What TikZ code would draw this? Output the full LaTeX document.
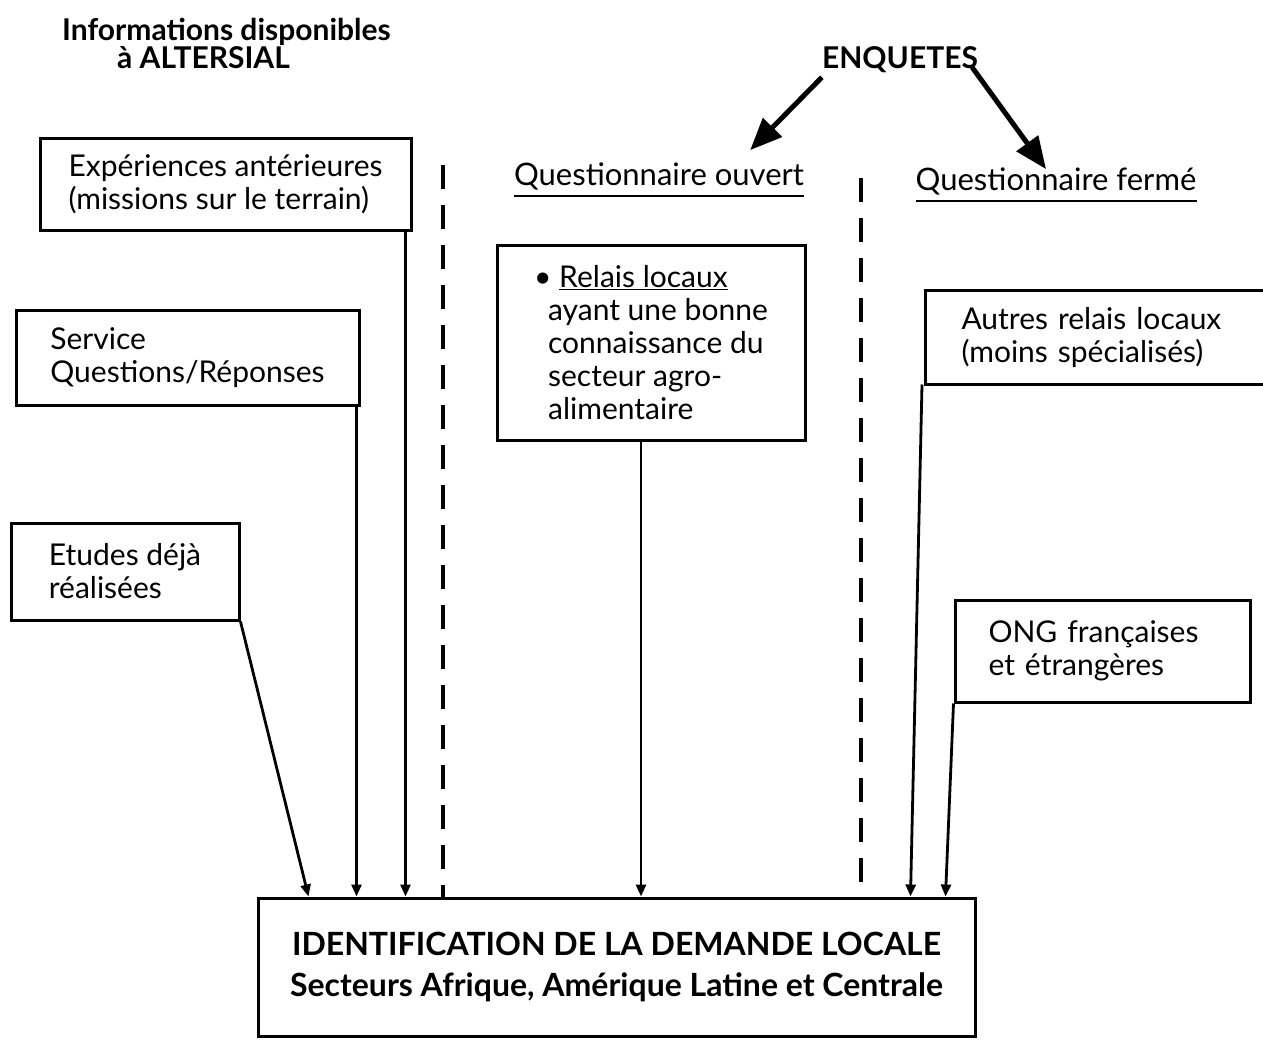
\documentclass[tikz,border=0pt]{standalone}
\usepackage{fontspec}
\setmainfont{Lato}
\usetikzlibrary{arrows.meta,calc}
\begin{document}
\begin{tikzpicture}[x=1pt,y=-1pt,
  box/.style={draw, line width=3pt, inner sep=0pt, align=left,
    font=\fontsize{30}{33}\selectfont},
  head/.style={inner sep=0pt, font=\fontsize{31}{33}\selectfont},
  ttl/.style={inner sep=0pt, align=left, font=\bfseries\fontsize{30}{28}\selectfont},
  arr/.style={line width=2.8pt, -{Triangle[length=12pt,width=10pt]}},
  bigarr/.style={line width=5pt, -{Triangle[length=32pt,width=26pt]}},
  sep/.style={line width=4pt, dash pattern=on 24pt off 16pt},
  uline/.style={line width=2.5pt}]
\useasboundingbox (0,0) rectangle (1263,1041);

% titles
\node[ttl, anchor=north west] (title) at (62,18) {Informations disponibles\\\hspace*{55pt}à ALTERSIAL};
\node[ttl, anchor=center] (enq) at (900,60) {ENQUETES};

% column headings
\node[head] (q1) at (659,176) {Questionnaire ouvert};
\node[head] (q2) at (1056,181) {Questionnaire fermé};
\draw[uline] ($(q1.south west)+(0,6)$) -- ($(q1.south east)+(0,6)$);
\draw[uline] ($(q2.south west)+(0,6)$) -- ($(q2.south east)+(0,6)$);

% source boxes
\node[box, minimum width=371, minimum height=92] (b1) at (225.5,184) {Expériences antérieures\\(missions sur le terrain)};
\node[box, minimum width=343, minimum height=95] (b2) at (187.5,357.5) {Service\\Questions/Réponses};
\node[box, minimum width=228, minimum height=97] (b3) at (125,571.5) {Etudes déjà\\réalisées};
\node[box, minimum width=308, minimum height=195] (b4) at (651,342.5) {\textbullet\ \underline{Relais locaux}\\\hspace*{14pt}ayant une bonne\\\hspace*{14pt}connaissance du\\\hspace*{14pt}secteur agro-\\\hspace*{14pt}alimentaire};
\node[box, draw=none, anchor=west, minimum height=91, text width=300, inner xsep=35pt] (b5) at (925,337.5) {Autres relais locaux\\(moins spécialisés)};
\draw[line width=3pt] (b5.north east) -- (b5.north west) -- (b5.south west) -- (b5.south east);
\node[box, draw=none, anchor=west, minimum height=102, text width=240, inner xsep=32pt] (b6t) at (955,651) {ONG françaises\\et étrangères};
\node[box, minimum width=295, minimum height=102] (b6) at (1102.5,651) {};

% target box
\node[box, minimum width=717, minimum height=138, align=center,
  font=\bfseries\fontsize{32}{41}\selectfont] (bot) at (616.5,967) {IDENTIFICATION DE LA DEMANDE LOCALE\\Secteurs Afrique, Amérique Latine et Centrale};

% ENQUETES arrows
\draw[bigarr] ($(enq.south west)+(0,4)$) -- ($(q1.north east)+(-54,-12)$);
\draw[bigarr] ($(enq.south east)+(-6,-6)$) -- ($(q2.north)+(-10,2)$);

% separators
\coordinate (s1) at (443,165);
\coordinate (s2) at (861,178);
\draw[sep] (s1) -- (s1 |- bot.north);
\draw[sep] (s2) -- (s2 |- bot.north);

% connectors
\coordinate (a1) at ($(b1.south east)+(-7,0)$);
\coordinate (a2) at ($(b2.south east)+(-4,0)$);
\coordinate (a4) at ($(b4.south)+(-10,0)$);
\coordinate (a5) at ($(b5.south west)+(-3,0)$);
\coordinate (a6) at (b6.south west);
\draw[arr] (b3.south east) -- ($(bot.north west)+(52,0)$);
\draw[arr] (a2) -- (a2 |- bot.north);
\draw[arr] (a1) -- (a1 |- bot.north);
\draw[arr] (a4) -- (a4 |- bot.north);
\draw[arr] (a5) -- ($(bot.north west)+(654,0)$);
\draw[arr] (a6) -- ($(bot.north west)+(689,0)$);
\end{tikzpicture}
\end{document}
